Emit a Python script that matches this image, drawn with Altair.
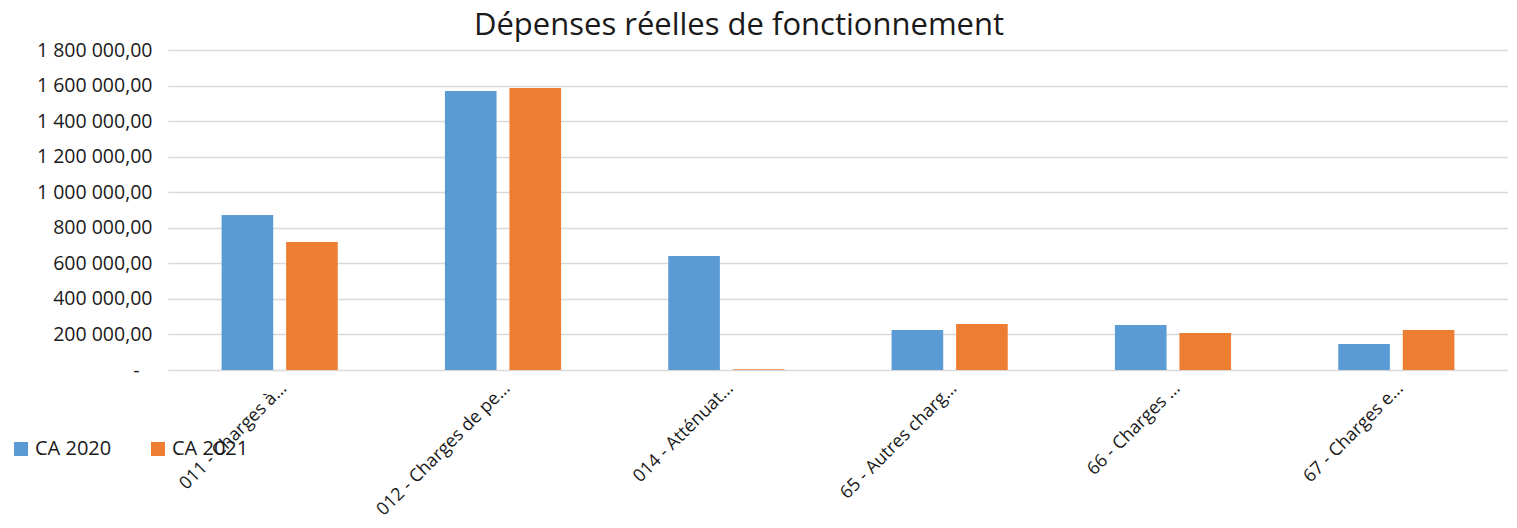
import altair as alt
import pandas as pd

categories = [
    "011 - Charges à…",
    "012 - Charges de pe…",
    "014 - Atténuat…",
    "65 - Autres charg…",
    "66 - Charges …",
    "67 - Charges e…",
]
series = ["CA 2020", "CA 2021"]
ca_2020 = [872000, 1570000, 641000, 225000, 253000, 146000]
ca_2021 = [720000, 1586000, 4000, 259000, 208000, 225000]
y_ticks = [0, 200000, 400000, 600000, 800000, 1000000, 1200000, 1400000, 1600000, 1800000]

rows = []
for c, a, b in zip(categories, ca_2020, ca_2021):
    rows.append({"cat": c, "serie": series[0], "val": a})
    rows.append({"cat": c, "serie": series[1], "val": b})
df = pd.DataFrame(rows)

FONT = "Open Sans"
TXT = "#1a1a1a"

label_expr = (
    "datum.value == 0 ? '-' : "
    "replace(replace(format(datum.value, ',.2f'), regexp(',', 'g'), ' '), '.', ',')"
)

chart = (
    alt.Chart(df)
    .mark_bar()
    .encode(
        x=alt.X(
            "cat:N",
            sort=categories,
            title=None,
            scale=alt.Scale(paddingInner=0.48, paddingOuter=0.24),
            axis=alt.Axis(
                labelAngle=-45,
                labelFont=FONT,
                labelFontSize=18,
                labelColor=TXT,
                ticks=False,
                domain=False,
                labelPadding=9,
                labelOffset=-2,
                labelLimit=400,
            ),
        ),
        xOffset=alt.XOffset(
            "serie:N",
            sort=series,
            scale=alt.Scale(paddingInner=0.2, paddingOuter=0),
        ),
        y=alt.Y(
            "val:Q",
            title=None,
            scale=alt.Scale(domain=[0, 1800000], nice=False),
            axis=alt.Axis(
                values=y_ticks,
                labelExpr=label_expr,
                labelFont=FONT,
                labelFontSize=19.5,
                labelColor=TXT,
                ticks=False,
                domain=False,
                labelPadding={"condition": {"test": "datum.value == 0", "value": 29}, "value": 16},
                gridColor="#d9d9d9",
                gridWidth=1.5,
            ),
        ),
        color=alt.Color(
            "serie:N",
            sort=series,
            scale=alt.Scale(domain=series, range=["#5b9bd5", "#ed7d31"]),
            legend=alt.Legend(
                title=None,
                orient="none",
                legendX=-157,
                legendY=389,
                direction="horizontal",
                symbolType="square",
                symbolSize=196,
                symbolStrokeWidth=0,
                labelFont=FONT,
                labelFontSize=20,
                labelColor=TXT,
                columnPadding=36,
            ),
        ),
    )
    .properties(
        width=1340,
        height=320,
        title=alt.TitleParams(
            "Dépenses réelles de fonctionnement",
            font=FONT,
            fontSize=31,
            fontWeight="normal",
            color=TXT,
            anchor="middle",
            dx=-99,
            offset=-2,
        ),
        autosize=alt.AutoSizeParams(type="none"),
        padding={"left": 160, "top": 42, "right": 0, "bottom": 150},
    )
    .configure_view(stroke=None)
)

chart.save("out.html", embed_options={"renderer": "svg", "actions": False})
